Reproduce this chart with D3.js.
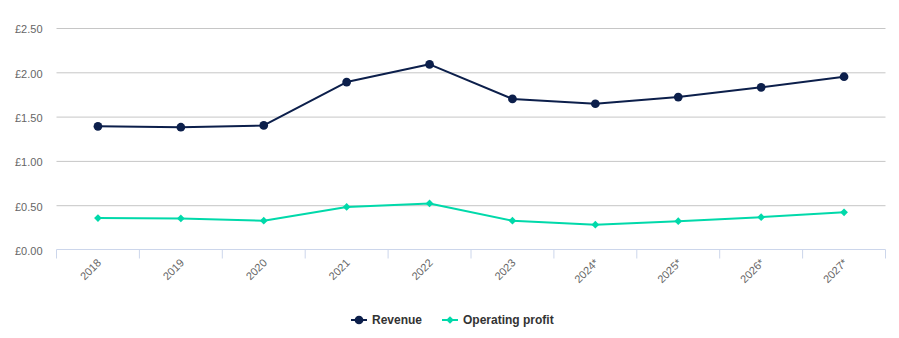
<!DOCTYPE html>
<html>
<head>
<meta charset="utf-8">
<script src="https://cdn.jsdelivr.net/npm/d3@7"></script>
<style>
  body { margin: 0; background: #fff; }
  text { font-family: "Liberation Sans", Arial, sans-serif; }
</style>
</head>
<body>
<div id="chart"></div>
<script>
var years = ["2018", "2019", "2020", "2021", "2022", "2023", "2024*", "2025*", "2026*", "2027*"];
var revenue = [1.39, 1.38, 1.40, 1.89, 2.09, 1.70, 1.645, 1.72, 1.83, 1.95];
var operatingProfit = [0.355, 0.35, 0.325, 0.48, 0.52, 0.325, 0.28, 0.32, 0.365, 0.42];
var yTicks = [0, 0.5, 1, 1.5, 2, 2.5];

var series = [
  {name: "Revenue", values: revenue, color: "#0c1f4b", symbol: d3.symbolCircle, size: 60, rot: 0},
  {name: "Operating profit", values: operatingProfit, color: "#00d9aa", symbol: d3.symbolSquare, size: 30, rot: 45}
];

var svgWidth = 899;
var svgHeight = 338;
var margin = {top: 28, right: 13.5, bottom: 88.5, left: 56.5};
var chartWidth = svgWidth - margin.left - margin.right;
var chartHeight = svgHeight - margin.top - margin.bottom;

var svg = d3.select("#chart")
  .append("svg")
  .attr("width", svgWidth)
  .attr("height", svgHeight);

var chartGroup = svg.append("g")
  .attr("transform", `translate(${margin.left},${margin.top})`);

var xScale = d3.scaleBand()
  .domain(years)
  .range([0, chartWidth]);

var yScale = d3.scaleLinear()
  .domain([0, 2.5])
  .range([chartHeight, 0]);

// gridlines + y labels
var yAxis = chartGroup.append("g")
  .call(d3.axisLeft(yScale)
    .tickValues(yTicks)
    .tickSize(-chartWidth)
    .tickPadding(14)
    .tickFormat(d => "£" + d3.format(".2f")(d)));
yAxis.select(".domain").remove();
yAxis.selectAll(".tick line").attr("stroke", "#c6c6c6");
yAxis.selectAll(".tick").filter(d => d === 0).select("line").remove();
yAxis.selectAll(".tick text")
  .attr("fill", "#666666")
  .style("font-size", "11px")
  .attr("dy", "0.45em");

// x axis: ticks between categories
var xAxis = chartGroup.append("g")
  .attr("transform", `translate(0, ${chartHeight})`);
xAxis.append("line")
  .attr("x1", 0).attr("x2", chartWidth)
  .attr("stroke", "#ccd6eb");
xAxis.selectAll("line.tick")
  .data(years.concat(["end"]))
  .enter()
  .append("line")
  .attr("x1", (d, i) => i * xScale.step())
  .attr("x2", (d, i) => i * xScale.step())
  .attr("y1", 0).attr("y2", 9)
  .attr("stroke", "#ccd6eb");
xAxis.selectAll("text")
  .data(years)
  .enter()
  .append("text")
  .attr("transform", d => `translate(${xScale(d) + xScale.bandwidth() / 2 + 4}, 14) rotate(-45)`)
  .attr("text-anchor", "end")
  .attr("fill", "#666666")
  .style("font-size", "11px")
  .text(d => d);

// lines + markers
var line = d3.line()
  .x((d, i) => xScale(years[i]) + xScale.bandwidth() / 2)
  .y(d => yScale(d));

series.forEach(function(s) {
  chartGroup.append("path")
    .datum(s.values)
    .attr("d", line)
    .attr("fill", "none")
    .attr("stroke", s.color)
    .attr("stroke-width", 2)
    .attr("stroke-linejoin", "round");

  chartGroup.selectAll(null)
    .data(s.values)
    .enter()
    .append("path")
    .attr("d", d3.symbol().type(s.symbol).size(s.size))
    .attr("transform", (d, i) => `translate(${xScale(years[i]) + xScale.bandwidth() / 2}, ${yScale(d)}) rotate(${s.rot})`)
    .attr("fill", s.color);
});

// legend
var legendPos = [351, 442];
var legend = svg.append("g").attr("transform", "translate(0, 320)");
series.forEach(function(s, i) {
  var g = legend.append("g").attr("transform", `translate(${legendPos[i]}, 0)`);
  g.append("line")
    .attr("x1", 0).attr("x2", 16)
    .attr("stroke", s.color)
    .attr("stroke-width", 2);
  g.append("path")
    .attr("d", d3.symbol().type(s.symbol).size(s.size))
    .attr("transform", `translate(8, 0) rotate(${s.rot})`)
    .attr("fill", s.color);
  g.append("text")
    .attr("x", 21)
    .attr("dy", "0.35em")
    .attr("fill", "#333333")
    .style("font-size", "12px")
    .style("font-weight", "bold")
    .text(s.name);
});
</script>
</body>
</html>
